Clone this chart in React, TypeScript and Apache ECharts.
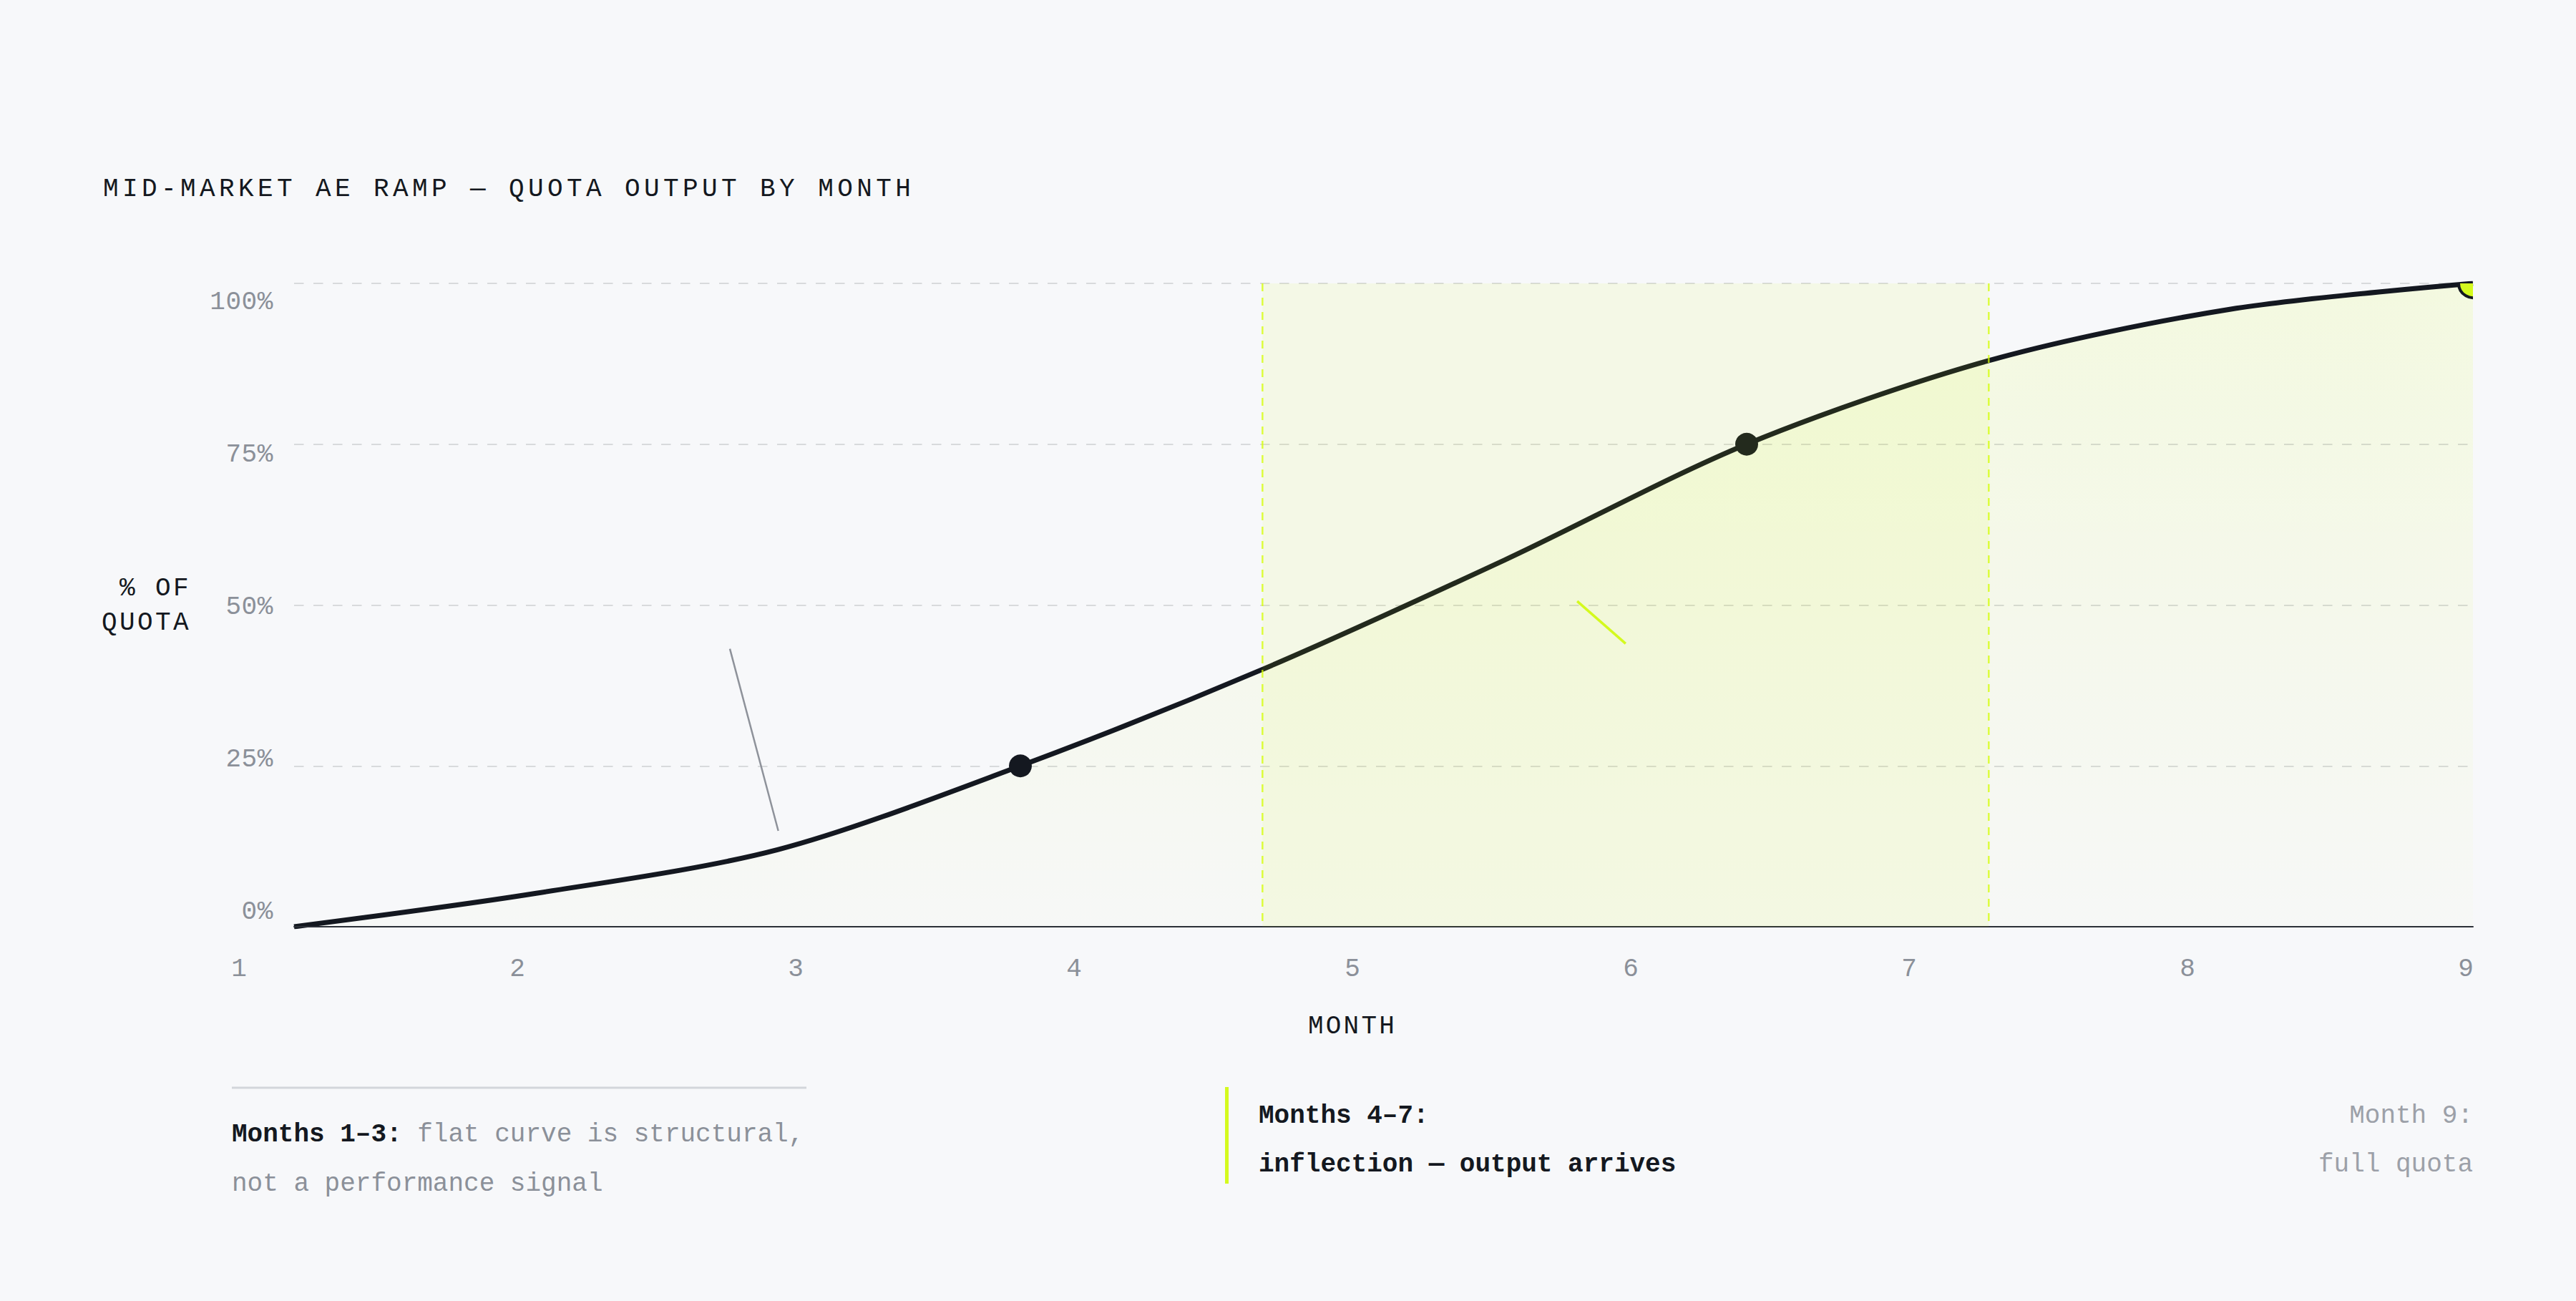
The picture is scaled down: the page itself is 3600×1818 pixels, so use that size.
import React, { useEffect, useRef } from "react";
import * as echarts from "echarts";

// ---------- data ----------
const TITLE = "MID-MARKET AE RAMP — QUOTA OUTPUT BY MONTH";
const Y_NAME = "% OF\nQUOTA";
const X_NAME = "MONTH";

const rampMonths = [0, 1, 2, 3, 4, 5, 6, 7, 8, 9];
const rampQuotaPct = [0, 5.2, 12, 25, 40, 57, 75, 88, 96, 100];

const milestoneMonths = [3, 6];
const milestonePct = [25, 75];

const fullQuotaMonths = [9];
const fullQuotaPct = [100];

const inflectionBandMonths = [4, 7];
const inflectionBandPct = [0, 100];

const yTickMin = 0;
const yTickMax = 100;
const yTickStep = 25;

const xTickMin = 1;
const xTickMax = 9;
const xTickStep = 1;

const grayPointerMonths = [1.8, 2.0];
const grayPointerPct = [43.2, 14.9];
const limePointerMonths = [5.3, 5.5];
const limePointerPct = [50.6, 44.0];

const noteLeftBold = "Months 1–3:";
const noteLeftRest = " flat curve is structural,";
const noteLeftLine2 = "not a performance signal";
const noteMidLine1 = "Months 4–7:";
const noteMidLine2 = "inflection — output arrives";
const noteRightLine1 = "Month 9:";
const noteRightLine2 = "full quota";

// ---------- styles ----------
const BG = "#f7f8fa";
const INK = "#141820";
const GRAY = "#8b9099";
const GRAY_LIGHT = "#9ca0a8";
const LIME = "#d4fa1e";
const FONT = "'Liberation Mono', 'DejaVu Sans Mono', monospace";

const SPACING: Record<string, number> = {
  [TITLE]: 5.4,
  "% OF": 3.4,
  QUOTA: 3.4,
  [X_NAME]: 3.2,
};

function applySpacing(root: HTMLElement) {
  root.querySelectorAll("text").forEach((t) => {
    const s = (t.textContent || "").trim();
    if (SPACING[s] !== undefined) t.setAttribute("letter-spacing", String(SPACING[s]));
    else if (/^\d+%$/.test(s)) t.setAttribute("letter-spacing", "0.6");
  });
}

export default function App() {
  const ref = useRef<HTMLDivElement>(null);

  useEffect(() => {
    document.body.style.margin = "0";
    document.body.style.background = BG;
    if (!ref.current) return;
    const chart = echarts.init(ref.current, null, { renderer: "svg" });

    const rampData = rampMonths.map((m, i) => [m, rampQuotaPct[i]]);
    const milestoneData = milestoneMonths.map((m, i) => [m, milestonePct[i]]);
    const fullData = fullQuotaMonths.map((m, i) => [m, fullQuotaPct[i]]);
    const bandData = [[inflectionBandMonths[0], inflectionBandMonths[1], inflectionBandPct[0], inflectionBandPct[1]]];
    const grayData = grayPointerMonths.map((m, i) => [m, grayPointerPct[i]]);
    const limeData = limePointerMonths.map((m, i) => [m, limePointerPct[i]]);

    const option: any = {
      animation: false,
      backgroundColor: BG,
      textStyle: { fontFamily: FONT },
      grid: [
        { left: 411, right: 144, top: 396, bottom: 523 },
        { left: 411, right: 144, top: 422, bottom: 544 },
        { left: 334, right: 154, top: 396, bottom: 523 },
      ],
      xAxis: [
        {
          type: "value", gridIndex: 0, min: 0, max: 9, z: 3,
          axisLine: { show: true, lineStyle: { color: "#2c3038", width: 2 } },
          axisTick: { show: false }, axisLabel: { show: false }, splitLine: { show: false },
        },
        { type: "value", gridIndex: 1, min: 0, max: 1, show: false },
        {
          type: "value", gridIndex: 2, min: xTickMin, max: xTickMax, interval: xTickStep,
          axisLine: { show: false }, axisTick: { show: false }, splitLine: { show: false },
          axisLabel: { color: GRAY, fontSize: 36, fontFamily: FONT, margin: 41 },
          name: X_NAME, nameLocation: "middle", nameGap: 121,
          nameTextStyle: { color: INK, fontSize: 36, fontFamily: FONT },
        },
      ],
      yAxis: [
        {
          type: "value", gridIndex: 0, min: yTickMin, max: yTickMax, interval: yTickStep, z: 3,
          axisLine: { show: false }, axisTick: { show: false }, axisLabel: { show: false },
          splitLine: { show: true, lineStyle: { color: "rgba(30,34,44,0.14)", width: 2, type: [13.5, 13.5] } },
        },
        {
          type: "value", gridIndex: 1, min: yTickMin, max: yTickMax, interval: yTickStep,
          axisLine: { show: false }, axisTick: { show: false }, splitLine: { show: false },
          axisLabel: { color: GRAY, fontSize: 36, fontFamily: FONT, margin: 29, formatter: (v: number) => v + "%" },
        },
        { type: "value", gridIndex: 2, show: false, min: 0, max: 1 },
      ],
      series: [
        {
          type: "line", name: "ramp", data: rampData, xAxisIndex: 0, yAxisIndex: 0,
          smooth: 0.3, symbol: "none", z: 2,
          lineStyle: { color: INK, width: 7 },
          areaStyle: {
            color: new echarts.graphic.LinearGradient(0, 0, 0, 1, [
              { offset: 0, color: "rgba(212,255,0,0.15)" },
              { offset: 1, color: "rgba(212,255,0,0.02)" },
            ]),
          },
        },
        {
          type: "scatter", data: milestoneData, xAxisIndex: 0, yAxisIndex: 0,
          symbol: "circle", symbolSize: 32, z: 4, itemStyle: { color: INK, opacity: 1 },
        },
        {
          type: "custom", data: bandData, xAxisIndex: 0, yAxisIndex: 0, z: 5,
          encode: { x: [0, 1], y: [2, 3] },
          renderItem: (_p: any, api: any) => {
            const tl = api.coord([api.value(0), api.value(3)]);
            const br = api.coord([api.value(1), api.value(2)]);
            const edge = { stroke: "rgba(212,255,0,0.75)", lineWidth: 2.5, lineDash: [11, 9], fill: null };
            return {
              type: "group",
              children: [
                { type: "rect", shape: { x: tl[0], y: tl[1], width: br[0] - tl[0], height: br[1] - tl[1] }, style: { fill: "rgba(212,255,0,0.08)" } },
                { type: "line", shape: { x1: tl[0], y1: tl[1], x2: tl[0], y2: br[1] }, style: edge },
                { type: "line", shape: { x1: br[0], y1: tl[1], x2: br[0], y2: br[1] }, style: edge },
              ],
            };
          },
        },
        {
          type: "custom", data: fullData, xAxisIndex: 0, yAxisIndex: 0, z: 6, clip: true,
          encode: { x: 0, y: 1 },
          renderItem: (_p: any, api: any) => {
            const c = api.coord([api.value(0), api.value(1)]);
            return { type: "circle", shape: { cx: c[0], cy: c[1], r: 20 }, style: { fill: LIME, stroke: INK, lineWidth: 4 } };
          },
        },
        {
          type: "line", data: grayData, xAxisIndex: 0, yAxisIndex: 0, symbol: "none", z: 6,
          lineStyle: { color: "#8e929a", width: 2.5 },
        },
        {
          type: "line", data: limeData, xAxisIndex: 0, yAxisIndex: 0, symbol: "none", z: 6,
          lineStyle: { color: LIME, width: 3.5 },
        },
      ],
      graphic: [
        {
          type: "text", x: 144, y: 264,
          style: { text: TITLE, fill: INK, fontSize: 36, fontFamily: FONT, align: "left", verticalAlign: "middle" },
        },
        {
          type: "text", x: 267, y: 846,
          style: { text: Y_NAME, fill: INK, fontSize: 36, fontFamily: FONT, align: "right", verticalAlign: "middle", lineHeight: 48 },
        },
        {
          type: "line", shape: { x1: 324, y1: 1520, x2: 1127, y2: 1520 },
          style: { stroke: "#d3d6db", lineWidth: 3 },
        },
        {
          type: "text", x: 324, y: 1620,
          style: {
            text: `{b|${noteLeftBold}}{g|${noteLeftRest}}\n{g|${noteLeftLine2}}`,
            align: "left", verticalAlign: "middle",
            rich: {
              b: { fill: INK, fontWeight: "bold", fontSize: 36, fontFamily: FONT, lineHeight: 69 },
              g: { fill: GRAY, fontSize: 36, fontFamily: FONT, lineHeight: 69 },
            },
          },
        },
        {
          type: "rect", shape: { x: 1712, y: 1519, width: 5, height: 135 },
          style: { fill: LIME },
        },
        {
          type: "text", x: 1759, y: 1593,
          style: {
            text: `${noteMidLine1}\n${noteMidLine2}`, fill: INK, fontWeight: "bold",
            fontSize: 36, fontFamily: FONT, lineHeight: 68, align: "left", verticalAlign: "middle",
          },
        },
        {
          type: "text", x: 3456, y: 1593,
          style: {
            text: `${noteRightLine1}\n${noteRightLine2}`, fill: GRAY_LIGHT,
            fontSize: 36, fontFamily: FONT, lineHeight: 68, align: "right", verticalAlign: "middle",
          },
        },
      ],
    };

    chart.setOption(option);
    const root = ref.current;
    applySpacing(root);
    chart.on("finished", () => applySpacing(root));
    const raf = requestAnimationFrame(() => applySpacing(root));

    return () => {
      cancelAnimationFrame(raf);
      chart.dispose();
    };
  }, []);

  return <div ref={ref} style={{ width: 3600, height: 1818, background: BG }} />;
}
